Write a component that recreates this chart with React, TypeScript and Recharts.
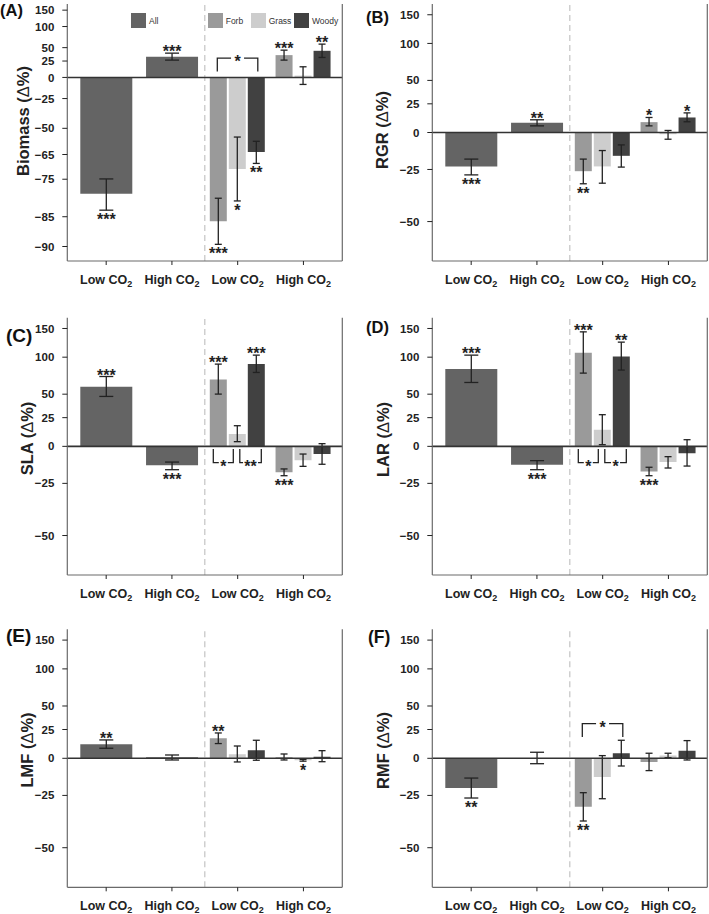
import React from 'react';
import { BarChart, Bar, XAxis, YAxis, ErrorBar, ReferenceLine, LabelList, Legend } from 'recharts';

// each cell: [mean %, lower CI %, upper CI %, significance]
type Cell = [number, number, number, string];

const CATEGORY_LABELS = ['Low CO2', 'High CO2', 'Low CO2', 'High CO2'];
const SERIES = ['All', 'Forb', 'Grass', 'Woody'];
const COLORS = ['#646464', '#9a9a9a', '#cdcdcd', '#414141'];

const biomassTicks = [150, 100, 50, 25, 0, -25, -50, -65, -75, -85, -90];
const ratioTicks = [150, 100, 50, 25, 0, -25, -50];

// (A) Biomass
const biomassAll: Cell[] = [[-79.5, -83.6, -74.9, '***'], [32.5, 26.6, 39.2, '***']];
const biomassForb: Cell[] = [[-85.9, -89.7, -80.7, '***'], [35.5, 26.6, 45.0, '***']];
const biomassGrass: Cell[] = [[-71.3, -81.4, -55.6, '*'], [2.5, -9.1, 15.6, '']];
const biomassWoody: Cell[] = [[-63.8, -69.0, -58.1, '**'], [43.7, 31.3, 57.4, '**']];

// (B) RGR
const rgrAll: Cell[] = [[-23.2, -28.1, -18.7, '***'], [7.8, 5.3, 10.4, '**']];
const rgrForb: Cell[] = [[-26.0, -32.9, -18.7, '**'], [8.4, 5.3, 12.4, '*']];
const rgrGrass: Cell[] = [[-23.2, -32.6, -13.1, ''], [-1.3, -5.1, 1.6, '']];
const rgrWoody: Cell[] = [[-16.6, -23.6, -9.2, ''], [12.4, 8.7, 16.5, '*']];

// (C) SLA
const slaAll: Cell[] = [[58.9, 47.4, 72.1, '***'], [-13.7, -16.6, -11.5, '***']];
const slaForb: Cell[] = [[68.2, 50.1, 89.5, '***'], [-18.3, -20.4, -16.1, '***']];
const slaGrass: Cell[] = [[10.0, 3.7, 17.4, ''], [-10.3, -14.4, -5.8, '']];
const slaWoody: Cell[] = [[89.5, 77.6, 103.2, '***'], [-5.8, -13.0, 2.1, '']];

// (D) LAR
const larAll: Cell[] = [[82.3, 64.3, 103.2, '***'], [-13.3, -16.6, -10.5, '***']];
const larForb: Cell[] = [[106.9, 76.7, 143.5, '***'], [-17.8, -20.4, -15.0, '***']];
const larGrass: Cell[] = [[13.8, 1.3, 27.9, ''], [-11.5, -15.5, -7.7, '']];
const larWoody: Cell[] = [[101.1, 80.9, 124.8, '**'], [-5.3, -14.2, 5.3, '']];

// (E) LMF
const lmfAll: Cell[] = [[11.5, 8.1, 15.3, '**'], [0.8, -1.3, 2.6, '']];
const lmfForb: Cell[] = [[16.8, 12.1, 21.7, '**'], [0.8, -1.3, 3.4, '']];
const lmfGrass: Cell[] = [[3.2, -2.8, 10.0, ''], [-1.5, -2.2, -0.8, '*']];
const lmfWoody: Cell[] = [[6.4, -1.5, 15.0, ''], [1.3, -2.6, 6.1, '']];

// (F) RMF
const rmfAll: Cell[] = [[-20.6, -26.5, -14.2, '**'], [0.3, -4.1, 4.8, '']];
const rmfForb: Cell[] = [[-31.3, -38.5, -23.4, '**'], [-2.8, -9.1, 4.0, '']];
const rmfGrass: Cell[] = [[-13.5, -26.9, 2.1, ''], [2.1, 0.5, 4.0, '']];
const rmfWoody: Cell[] = [[4.0, -5.8, 15.0, ''], [6.1, -1.3, 14.7, '']];

// brackets between bars of the low CO2 group (bar 0 = Forb, 1 = Grass, 2 = Woody)
interface Bracket { from: number; to: number; text: string; level?: number }
const biomassBrackets: Bracket[] = [{ from: 0, to: 2, text: '*', level: 8.5 }];
const slaBrackets: Bracket[] = [{ from: 0, to: 1, text: '*' }, { from: 1, to: 2, text: '**' }];
const larBrackets: Bracket[] = [{ from: 0, to: 1, text: '*' }, { from: 1, to: 2, text: '*' }];
const rmfBrackets: Bracket[] = [{ from: 0, to: 2, text: '*', level: 18 }];

const FONT = '"Liberation Sans", Arial, Helvetica, sans-serif';
const INK = '#222';
const FRAME = '#6a6a6a';
const BAR_W = 17;
const BAR_GAP = 2;

// log response ratio, which is what the axis is linear in
const tr = (p: number) => Math.log(1 + p / 100);
const fmtTick = (v: number) => {
  const p = Math.round((Math.exp(v) - 1) * 100);
  return p < 0 ? '\u2212' + Math.abs(p) : String(p);
};

interface Panel {
  letter: string; title: string; col: number; chartTop: number; plotTop: number; plotBottom: number;
  domain: [number, number]; ticks: number[]; cells: Cell[][]; brackets: Bracket[];
  legend?: boolean; titleX: number; titleY: number; letterX: number; letterY: number; letterSize: number;
}

const PANELS: Panel[] = [
  { letter: 'A', title: 'Biomass', col: 0, chartTop: 0, plotTop: 4, plotBottom: 261, domain: [-2.5, 1], ticks: biomassTicks,
    cells: [biomassAll, biomassForb, biomassGrass, biomassWoody], brackets: biomassBrackets, legend: true,
    titleX: 23, titleY: 121, letterX: 0, letterY: 11, letterSize: 16.5 },
  { letter: 'B', title: 'RGR', col: 1, chartTop: 0, plotTop: 4, plotBottom: 261, domain: [-1, 1], ticks: ratioTicks,
    cells: [rgrAll, rgrForb, rgrGrass, rgrWoody], brackets: [],
    titleX: 382, titleY: 130, letterX: 366, letterY: 18, letterSize: 16.5 },
  { letter: 'C', title: 'SLA', col: 0, chartTop: 300, plotTop: 317.7, plotBottom: 575, domain: [-1, 1], ticks: ratioTicks,
    cells: [slaAll, slaForb, slaGrass, slaWoody], brackets: slaBrackets,
    titleX: 27, titleY: 438.5, letterX: 6, letterY: 336, letterSize: 19 },
  { letter: 'D', title: 'LAR', col: 1, chartTop: 300, plotTop: 317.7, plotBottom: 575, domain: [-1, 1], ticks: ratioTicks,
    cells: [larAll, larForb, larGrass, larWoody], brackets: larBrackets,
    titleX: 383, titleY: 439.5, letterX: 366, letterY: 328, letterSize: 16.5 },
  { letter: 'E', title: 'LMF', col: 0, chartTop: 612, plotTop: 629.3, plotBottom: 887.3, domain: [-1, 1], ticks: ratioTicks,
    cells: [lmfAll, lmfForb, lmfGrass, lmfWoody], brackets: [],
    titleX: 27, titleY: 750, letterX: 6, letterY: 636, letterSize: 19 },
  { letter: 'F', title: 'RMF', col: 1, chartTop: 612, plotTop: 629.3, plotBottom: 887.3, domain: [-1, 1], ticks: ratioTicks,
    cells: [rmfAll, rmfForb, rmfGrass, rmfWoody], brackets: rmfBrackets,
    titleX: 383, titleY: 750.5, letterX: 368, letterY: 637, letterSize: 17.5 },
];

const KEYS = ['all', 'forb', 'grass', 'woody'];

function buildRows(cells: Cell[][]) {
  return CATEGORY_LABELS.map((_, i) => {
    const row: any = { cat: i };
    KEYS.forEach((k, s) => {
      const inGroup = s === 0 ? i < 2 : i >= 2;
      const j = s === 0 ? i : i - 2;
      if (!inGroup) { row[k] = null; return; }
      const [m, lo, hi] = cells[s][j];
      const v = tr(m);
      row[k] = v;
      row[k + 'Err'] = [v - tr(lo), tr(hi) - v];
      row[k + 'Idx'] = j;
    });
    return row;
  });
}

const XTick = (props: any) => {
  const { x, y, payload } = props;
  const lab = CATEGORY_LABELS[payload.value];
  return (
    <text x={x} y={y} dy={16.5} textAnchor="middle" fontFamily={FONT} fontSize={12.5} fontWeight="bold" fill={INK}>
      {lab.slice(0, -1)}
      <tspan fontSize={9} dy={3}>{lab.slice(-1)}</tspan>
    </text>
  );
};

const LEGEND_X = [131, 207.7, 250.7, 294];
const renderLegend = (props: any) => (
  <div style={{ position: 'relative', width: 355, height: 30 }}>
    {(props.payload || []).map((p: any, i: number) => (
      <div key={p.value} style={{ position: 'absolute', left: LEGEND_X[i], top: 13, display: 'flex', alignItems: 'center' }}>
        <span style={{ display: 'inline-block', width: 15, height: 15, background: p.color }} />
        <span style={{ marginLeft: 3, fontFamily: FONT, fontSize: 8.5, color: '#333' }}>{p.value}</span>
      </div>
    ))}
  </div>
);

function PanelChart({ cfg }: { cfg: Panel }) {
  const W = cfg.col === 0 ? 355 : 354;
  const plotLeft = cfg.col === 0 ? 67.3 : 77.3;
  const plotW = 275;
  const YW = 60;
  const MT = cfg.plotTop - cfg.chartTop;
  const plotH = cfg.plotBottom - cfg.plotTop;
  const XH = 36;
  const H = MT + plotH + XH + 4;
  const [d0, d1] = cfg.domain;
  const yPix = (v: number) => MT + ((d1 - v) / (d1 - d0)) * plotH;
  const rows = buildRows(cfg.cells);
  const ticks = cfg.ticks.map(tr);

  const starContent = (s: number) => (props: any) => {
    const j = props.value;
    if (j == null) return null;
    const [m, lo, hi, sig] = cfg.cells[s][j];
    if (!sig) return null;
    const vb = props.viewBox || props;
    const cx = vb.x + vb.width / 2;
    const y = m >= 0 ? yPix(tr(hi)) + 4 : yPix(tr(lo)) + 15;
    return (
      <text key={`s${s}-${j}`} x={cx} y={y} textAnchor="middle" fontFamily={FONT} fontSize={16} fontWeight="bold" fill={INK}>{sig}</text>
    );
  };

  const bracketContent = (props: any) => {
    if (props.value !== 0 || cfg.brackets.length === 0) return null;
    const vb = props.viewBox || props;
    const fc = vb.x + vb.width / 2;
    const step = BAR_W + BAR_GAP;
    const zero = yPix(0);
    return (
      <g key="brackets" stroke={INK} strokeWidth={1.3} fill="none">
        {cfg.brackets.map((b, k) => {
          if (b.level != null) {
            const x1 = fc + b.from * step - 1;
            const x2 = fc + b.to * step + 1.5;
            const yb = yPix(tr(b.level));
            const yt = yb - 13.4;
            const mid = (x1 + x2) / 2;
            return (
              <g key={k}>
                <polyline points={`${x1},${yb} ${x1},${yt} ${mid - 6.5},${yt}`} />
                <polyline points={`${mid + 6.5},${yt} ${x2},${yt} ${x2},${yb}`} />
                <text x={mid} y={yt + 9.2} textAnchor="middle" fontFamily={FONT} fontSize={16} fontWeight="bold" fill={INK} stroke="none">{b.text}</text>
              </g>
            );
          }
          const x1 = fc + b.from * step + (b.from === 0 ? -5 : 2.5);
          const x2 = fc + b.to * step + (b.to === 1 ? -4 : 5);
          const yt = zero + 2.6;
          const yb = zero + 16.3;
          const mid = (x1 + x2) / 2;
          const gap = b.text.length > 1 ? 7.5 : 4.5;
          return (
            <g key={k}>
              <polyline points={`${x1},${yt} ${x1},${yb} ${mid - gap},${yb}`} />
              <polyline points={`${mid + gap},${yb} ${x2},${yb} ${x2},${yt}`} />
              <text x={mid} y={yb + 9.2} textAnchor="middle" fontFamily={FONT} fontSize={16} fontWeight="bold" fill={INK} stroke="none">{b.text}</text>
            </g>
          );
        })}
      </g>
    );
  };

  const left = cfg.col === 0 ? 0 : 355;
  return (
    <div style={{ position: 'absolute', left, top: cfg.chartTop }}>
      <BarChart
        width={W}
        height={H}
        data={rows}
        barGap={BAR_GAP}
        margin={{ top: MT, right: W - plotLeft - plotW - 1, bottom: 4, left: plotLeft - YW }}
      >
        <XAxis xAxisId="grp" dataKey="cat" type="category" padding={{ left: 6, right: 6 }} height={XH}
          axisLine={{ stroke: FRAME, strokeWidth: 1.2 }} tickLine={{ stroke: INK }} tickSize={4} tick={<XTick />} interval={0} />
        <XAxis xAxisId="all" dataKey="cat" type="category" orientation="top" padding={{ left: 6, right: 6 }} height={0}
          axisLine={{ stroke: FRAME, strokeWidth: 1.2 }} tick={false} tickLine={false} />
        <YAxis yAxisId="l" type="number" domain={cfg.domain} ticks={ticks} interval={0} width={YW} allowDataOverflow
          tickFormatter={fmtTick} tickSize={5} tickMargin={8} axisLine={{ stroke: FRAME, strokeWidth: 1.2 }} tickLine={{ stroke: INK }}
          tick={{ fill: INK, fontSize: 11.5, fontWeight: 'bold', fontFamily: FONT }}
          label={{
            content: () => (
              <text transform={`translate(${cfg.titleX - left},${cfg.titleY - cfg.chartTop}) rotate(-90)`} textAnchor="middle"
                dominantBaseline="central" fontFamily={FONT} fontSize={16.5} fontWeight="bold" fill={INK}>
                {cfg.title} (<tspan fontWeight="normal">Δ</tspan>%)
              </text>
            ),
          }} />
        <YAxis yAxisId="r" orientation="right" type="number" domain={cfg.domain} width={1} allowDataOverflow
          axisLine={{ stroke: FRAME, strokeWidth: 1.2 }} tick={false} tickLine={false} />
        {cfg.legend && (
          <Legend layout="horizontal" verticalAlign="middle" align="center" content={renderLegend}
            wrapperStyle={{ position: 'absolute', top: 0, left: 0, width: 355, height: 30 }} />
        )}
        <ReferenceLine xAxisId="grp" yAxisId="l" x={1} position="end" stroke="#c4c4c4" strokeWidth={1.2} strokeDasharray="6 4" />
        <Bar name={SERIES[0]} dataKey="all" xAxisId="all" yAxisId="r" fill={COLORS[0]} barSize={52} isAnimationActive={false}>
          <ErrorBar dataKey="allErr" width={7} stroke={INK} strokeWidth={1.3} direction="y" />
          <LabelList dataKey="allIdx" content={starContent(0)} />
        </Bar>
        {[1, 2, 3].map((s) => (
          <Bar key={KEYS[s]} name={SERIES[s]} dataKey={KEYS[s]} xAxisId="grp" yAxisId="l" fill={COLORS[s]} barSize={BAR_W}
            isAnimationActive={false}>
            <ErrorBar dataKey={KEYS[s] + 'Err'} width={3.5} stroke={INK} strokeWidth={1.3} direction="y" />
            <LabelList dataKey={KEYS[s] + 'Idx'} content={starContent(s)} />
            {s === 1 && <LabelList dataKey="forbIdx" content={bracketContent} />}
          </Bar>
        ))}
        <ReferenceLine yAxisId="l" xAxisId="grp" y={0} stroke="#333" strokeWidth={1.6} />
      </BarChart>
    </div>
  );
}

export default function App() {
  return (
    <div style={{ position: 'absolute', left: 0, top: 0, width: 709, height: 914, background: '#fff', overflow: 'hidden' }}>
      {PANELS.map((p) => (
        <React.Fragment key={p.letter}>
          <PanelChart cfg={p} />
          <div style={{
            position: 'absolute', left: p.letterX, top: p.letterY - p.letterSize * 0.6, fontFamily: FONT,
            fontSize: p.letterSize, fontWeight: 'bold', color: '#111', lineHeight: 1.2, whiteSpace: 'nowrap',
          }}>
            ({p.letter})
          </div>
        </React.Fragment>
      ))}
    </div>
  );
}
